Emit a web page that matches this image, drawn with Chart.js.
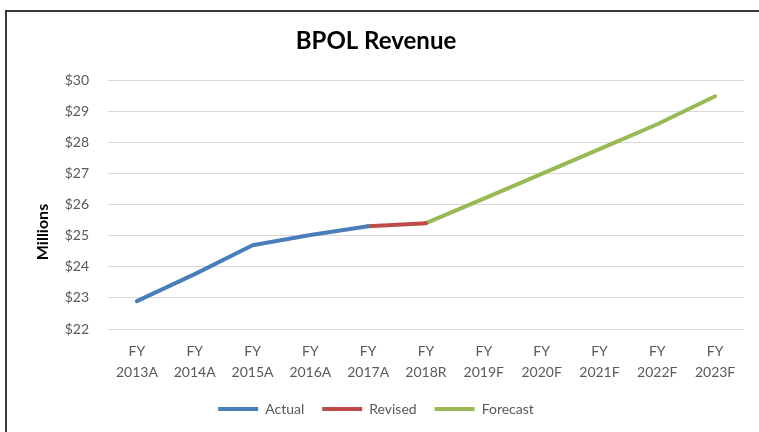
<!DOCTYPE html>
<html>
<head>
<meta charset="utf-8">
<script src="https://cdn.jsdelivr.net/npm/chart.js@4"></script>
<style>
  html, body { margin: 0; padding: 0; background: #fff; }
  #wrap { position: relative; width: 759px; height: 432px; overflow: hidden; }
  #frame { position: absolute; left: 5px; top: 10px; width: 800px; height: 500px;
           border-left: 2px solid #3a3a3a; border-top: 2px solid #3a3a3a; box-sizing: border-box; }
  canvas { position: absolute; left: 0; top: 0; }
</style>
</head>
<body>
<div id="wrap">
  <div id="frame"></div>
  <canvas id="c" width="759" height="432"></canvas>
</div>
<script>
const categories = [
  ['FY','2013A'], ['FY','2014A'], ['FY','2015A'], ['FY','2016A'], ['FY','2017A'],
  ['FY','2018R'], ['FY','2019F'], ['FY','2020F'], ['FY','2021F'], ['FY','2022F'], ['FY','2023F']
];
const actual   = [22.9, 23.77, 24.7, 25.03, 25.31, null, null, null, null, null, null];
const revised  = [null, null, null, null, 25.31, 25.41, null, null, null, null, null];
const forecast = [null, null, null, null, null, 25.41, 26.2, 27.0, 27.8, 28.6, 29.5];
const yTicks = [22, 23, 24, 25, 26, 27, 28, 29, 30];

const FONT = 'Lato, "Open Sans", sans-serif';
const GREY = '#595959';

const yTitlePlugin = {
  id: 'yTitle',
  afterDraw(chart) {
    const ctx = chart.ctx;
    ctx.save();
    ctx.translate(43, 232);
    ctx.rotate(-Math.PI / 2);
    ctx.font = 'bold 16px ' + FONT;
    ctx.fillStyle = '#000';
    ctx.textAlign = 'center';
    ctx.textBaseline = 'middle';
    ctx.fillText('Millions', 0, 0);
    ctx.restore();
  }
};

new Chart(document.getElementById('c'), {
  type: 'line',
  data: {
    labels: categories,
    datasets: [
      { label: 'Actual', data: actual, borderColor: '#4a7ebb', backgroundColor: '#4a7ebb', borderWidth: 4 },
      { label: 'Revised', data: revised, borderColor: '#be4b48', backgroundColor: '#be4b48', borderWidth: 4 },
      { label: 'Forecast', data: forecast, borderColor: '#98b954', backgroundColor: '#98b954', borderWidth: 4 }
    ]
  },
  options: {
    responsive: false,
    animation: false,
    devicePixelRatio: 1,
    layout: { padding: { left: 8, right: 15, top: 0, bottom: 6 } },
    elements: {
      line: { borderWidth: 4, tension: 0, borderCapStyle: 'round', borderJoinStyle: 'round' },
      point: { radius: 0, hoverRadius: 0 }
    },
    spanGaps: false,
    plugins: {
      title: {
        display: true,
        text: 'BPOL Revenue',
        color: '#000',
        font: { family: FONT, size: 24, weight: 'bold' },
        padding: { top: 27, bottom: 25 }
      },
      legend: {
        position: 'bottom',
        labels: {
          color: GREY,
          font: { family: FONT, size: 14 },
          usePointStyle: true,
          pointStyle: 'line',
          pointStyleWidth: 40,
          padding: 18
        }
      },
      tooltip: { enabled: false }
    },
    scales: {
      x: {
        offset: true,
        grid: { display: false, drawTicks: false, offset: true },
        border: { display: false },
        ticks: { color: GREY, font: { family: FONT, size: 14, lineHeight: 1.5 }, padding: 12, maxRotation: 0, autoSkip: false },
        afterFit(s) { s.height = 55; }
      },
      y: {
        min: 22, max: 30,
        grid: { color: '#d9d9d9', lineWidth: 1, drawTicks: false },
        border: { display: false },
        afterBuildTicks(s) { s.ticks = yTicks.map(v => ({ value: v })); },
        ticks: { color: GREY, font: { family: FONT, size: 14 }, padding: 19, callback: v => '$' + v },
        afterFit(s) { s.width = 100; }
      }
    }
  },
  plugins: [yTitlePlugin]
});
</script>
</body>
</html>
